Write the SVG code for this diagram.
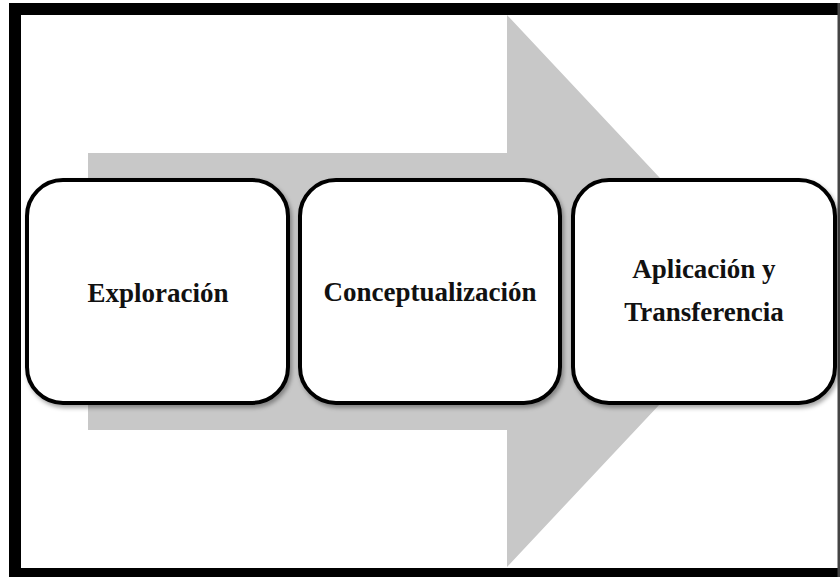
<svg xmlns="http://www.w3.org/2000/svg" width="840" height="577" viewBox="0 0 840 577">
<defs>
<style>
.box{fill:#ffffff;stroke:#000000;stroke-width:4;filter:url(#sh);}
.lbl{font-family:"Liberation Serif","Times New Roman",serif;font-weight:bold;font-size:27px;fill:#111111;text-anchor:middle;}
</style>
<filter id="sh" x="-10%" y="-10%" width="130%" height="130%">
<feDropShadow dx="2" dy="3" stdDeviation="2" flood-color="#000000" flood-opacity="0.35"/>
</filter>
</defs>
<rect x="0" y="0" width="840" height="577" fill="#ffffff"/>
<g id="frame">
<rect x="9" y="3" width="12" height="574" fill="#000000"/>
<rect x="9" y="3" width="831" height="12" fill="#000000"/>
<rect x="9" y="568" width="831" height="9" fill="#000000"/>
<rect x="837.5" y="3" width="2.5" height="574" fill="#444444"/>
</g>
<g id="arrow">
<polygon points="88,153 507,153 507,15 766,291 507,567 507,430 88,430" fill="#c8c8c8"/>
</g>
<g id="connectors"></g>
<g id="node1">
<rect class="box" x="27" y="180" width="261" height="223" rx="36" ry="36"/>
<text class="lbl" x="158" y="302">Exploración</text>
</g>
<g id="node2">
<rect class="box" x="300" y="180" width="260" height="223" rx="36" ry="36"/>
<text class="lbl" x="430" y="301">Conceptualización</text>
</g>
<g id="node3">
<rect class="box" x="573" y="180" width="262" height="223" rx="36" ry="36"/>
<text class="lbl" x="704" y="278">Aplicación y</text>
<text class="lbl" x="704" y="321">Transferencia</text>
</g>
</svg>
